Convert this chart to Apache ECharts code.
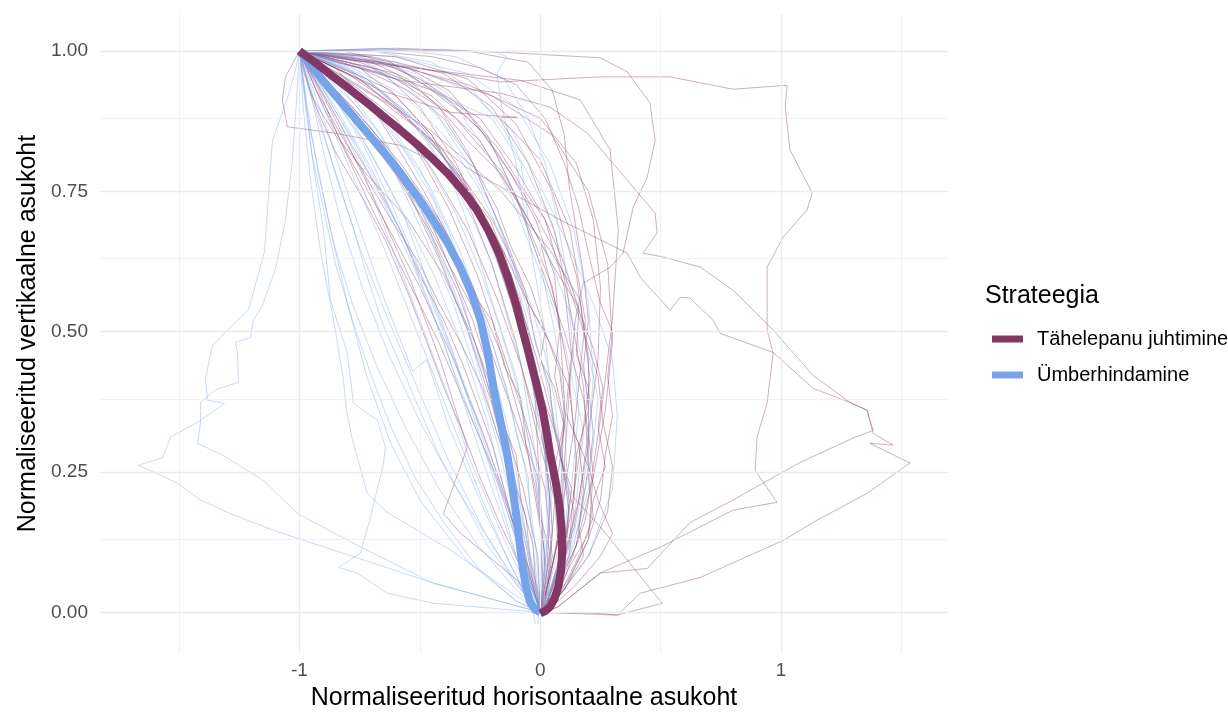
<!DOCTYPE html>
<html>
<head>
<meta charset="utf-8">
<script src="https://cdn.jsdelivr.net/npm/echarts@6/dist/echarts.min.js"></script>
<style>
html,body{margin:0;padding:0;background:#fff;}
#chart{width:1228px;height:713px;}
</style>
</head>
<body>
<div id="chart"></div>
<script>
// ---- Labels ----
const groupNames = ['Tähelepanu juhtimine', 'Ümberhindamine'];
const legendTitle = 'Strateegia';
const xTitle = 'Normaliseeritud horisontaalne asukoht';
const yTitle = 'Normaliseeritud vertikaalne asukoht';

// ---- Ticks / gridlines ----
const xTicks = [-1, 0, 1];
const xMinor = [-1.5, -0.5, 0.5, 1.5];
const yTicks = [0, 0.25, 0.5, 0.75, 1];
const yMinor = [0.125, 0.375, 0.625, 0.875];

// ---- Mean trajectories ----
const tahelepanuMean = [[-1,1],[-0.93,0.978],[-0.859,0.954],[-0.788,0.931],[-0.718,0.907],[-0.65,0.883],[-0.581,0.859],[-0.512,0.834],[-0.444,0.807],[-0.38,0.78],[-0.32,0.75],[-0.265,0.718],[-0.215,0.68],[-0.17,0.638],[-0.132,0.592],[-0.102,0.55],[-0.078,0.51],[-0.053,0.47],[-0.03,0.431],[-0.009,0.395],[0.01,0.36],[0.026,0.322],[0.041,0.283],[0.063,0.235],[0.08,0.19],[0.089,0.147],[0.091,0.108],[0.086,0.074],[0.075,0.046],[0.06,0.025],[0.041,0.01],[0.02,0.002],[0,-0.002]];
const umberMean = [[-1,1],[-0.93,0.962],[-0.859,0.925],[-0.788,0.89],[-0.718,0.854],[-0.65,0.82],[-0.581,0.783],[-0.512,0.742],[-0.444,0.699],[-0.385,0.658],[-0.332,0.615],[-0.285,0.568],[-0.248,0.52],[-0.218,0.462],[-0.195,0.401],[-0.166,0.342],[-0.138,0.283],[-0.115,0.222],[-0.097,0.164],[-0.084,0.118],[-0.072,0.076],[-0.058,0.043],[-0.042,0.018],[-0.022,0.005],[0,0]];

// ---- Individual trajectories: Tähelepanu juhtimine ----
const tahelepanuTraj = [
 [[-1,1],[-0.58,0.975],[-0.166,0.945],[0.249,0.954],[0.539,0.954],[0.8,0.932],[1.025,0.939],[1.017,0.9],[1.037,0.824],[1.129,0.747],[1.108,0.717],[1.008,0.668],[0.942,0.615],[0.942,0.503],[0.967,0.462],[0.942,0.373],[0.9,0.312],[0.892,0.253],[0.983,0.196],[0.8,0.182],[0.498,0.116],[0.249,0.07],[0.071,0.009],[0,-0.002]],
 [[-1,1],[-0.58,1.002],[-0.166,0.998],[0.249,0.988],[0.361,0.963],[0.456,0.907],[0.477,0.841],[0.444,0.775],[0.386,0.722],[0.344,0.64],[0.29,0.615],[0.178,0.586],[0.145,0.52],[0.124,0.414],[0.104,0.289],[0.083,0.146],[0.021,0.03],[0,0]],
 [[-1,1],[-0.58,0.948],[-0.166,0.925],[0.041,0.9],[0.195,0.854],[0.361,0.77],[0.477,0.711],[0.485,0.676],[0.427,0.64],[0.51,0.633],[0.664,0.615],[0.8,0.574],[0.967,0.503],[1.133,0.422],[1.286,0.374],[1.357,0.36],[1.382,0.319],[1.465,0.298],[1.369,0.301],[1.535,0.266],[1.357,0.212],[1.149,0.164],[1.008,0.128],[0.664,0.062],[0.415,0.034],[0.32,-0.005],[0.249,-0.002],[0,0]],
 [[-1,1],[-0.664,0.913],[-0.29,0.788],[0.083,0.699],[0.361,0.64],[0.415,0.597],[0.539,0.538],[0.581,0.561],[0.622,0.56],[0.718,0.52],[0.747,0.497],[0.967,0.463],[1.133,0.399],[1.286,0.374],[1.357,0.36],[1.382,0.324],[1.307,0.312],[1.079,0.267],[0.8,0.2],[0.622,0.16],[0.444,0.078],[0.249,0.07],[0.071,0.009],[0,0]],
 [[-1,1],[-0.788,0.948],[-0.456,0.859],[-0.166,0.752],[0.041,0.645],[0.166,0.556],[0.207,0.414],[0.137,0.205],[0.249,0.152],[0.386,0.08],[0.506,0.016],[0.32,-0.005],[0,0]],
 [[-1,1],[-0.871,0.895],[-0.705,0.752],[-0.539,0.592],[-0.415,0.449],[-0.303,0.294],[-0.402,0.176],[-0.332,0.141],[-0.095,0.057],[-0.012,0.004]],
 [[-1,1],[-1.058,0.954],[-1.071,0.913],[-1.05,0.865],[-0.859,0.854],[-0.581,0.832],[-0.373,0.788],[-0.207,0.699],[-0.083,0.556],[-0.021,0.378],[0,0.2],[0.021,0.075],[0,0]],
 [[-1,1],[-0.788,0.984],[-0.456,0.966],[-0.083,0.948],[0.166,0.913],[0.29,0.824],[0.324,0.681],[0.299,0.52],[0.249,0.342],[0.187,0.164],[0.083,0.039],[0,0]],
 [[-1,1],[-0.664,0.93],[-0.373,0.891],[-0.237,0.886],[-0.095,0.882],[-0.166,0.881],[0,0.806],[0.124,0.681],[0.187,0.52],[0.145,0.342],[0.083,0.164],[0.033,0.039],[0,0]],
 [[-1,1],[-0.8,0.96],[-0.6,0.9],[-0.4,0.82],[-0.25,0.72],[-0.12,0.6],[-0.04,0.45],[0.02,0.3],[0.05,0.15],[0.03,0.05],[0,0]],
 [[-1,1],[-0.85,0.93],[-0.7,0.85],[-0.55,0.75],[-0.42,0.63],[-0.3,0.5],[-0.2,0.37],[-0.12,0.24],[-0.06,0.12],[-0.02,0.03],[0,0]],
 [[-1,1],[-0.7,0.97],[-0.45,0.92],[-0.25,0.84],[-0.08,0.72],[0.05,0.58],[0.12,0.42],[0.15,0.27],[0.12,0.12],[0.05,0.03],[0,0]],
 [[-1,1],[-0.75,0.95],[-0.5,0.86],[-0.3,0.76],[-0.15,0.64],[-0.05,0.5],[0,0.36],[0.04,0.2],[0.03,0.08],[0,0]],
 [[-1,1],[-0.9,0.9],[-0.78,0.8],[-0.65,0.7],[-0.5,0.58],[-0.36,0.45],[-0.24,0.32],[-0.14,0.2],[-0.06,0.08],[0,0]],
 [[-1,1],[-0.6,0.99],[-0.3,0.95],[-0.1,0.87],[0.05,0.75],[0.15,0.6],[0.2,0.45],[0.2,0.3],[0.14,0.15],[0.05,0.04],[0,0]],
 [[-1,1],[-0.82,0.97],[-0.62,0.93],[-0.45,0.85],[-0.32,0.75],[-0.2,0.62],[-0.1,0.48],[-0.02,0.33],[0.06,0.2],[0.08,0.08],[0.02,0.01]],
 [[-1,1],[-0.88,0.94],[-0.74,0.86],[-0.6,0.78],[-0.46,0.68],[-0.34,0.57],[-0.24,0.44],[-0.16,0.31],[-0.1,0.18],[-0.04,0.06],[0,0]],
 [[-1,1],[-0.7,0.99],[-0.4,0.96],[-0.2,0.9],[-0.05,0.8],[0.06,0.68],[0.12,0.55],[0.18,0.4],[0.2,0.26],[0.15,0.12],[0.06,0.03],[0,0]],
 [[-1,1],[-0.78,0.9],[-0.58,0.8],[-0.42,0.7],[-0.28,0.58],[-0.16,0.46],[-0.08,0.34],[-0.02,0.22],[0.02,0.1],[0,0]],
 [[-1,1],[-0.85,0.98],[-0.65,0.96],[-0.5,0.9],[-0.35,0.8],[-0.22,0.68],[-0.12,0.55],[-0.02,0.42],[0.08,0.3],[0.12,0.18],[0.1,0.07],[0.03,0.01]],
 [[-1,1],[-0.55,0.97],[-0.2,0.92],[0.05,0.85],[0.2,0.75],[0.28,0.62],[0.3,0.48],[0.27,0.36],[0.22,0.24],[0.15,0.12],[0.05,0.03],[0,0]],
 [[-1,1],[-0.92,0.93],[-0.82,0.83],[-0.7,0.72],[-0.56,0.6],[-0.42,0.48],[-0.3,0.36],[-0.18,0.24],[-0.08,0.12],[-0.02,0.03],[0,0]],
 [[-1,1],[-0.7,0.94],[-0.48,0.86],[-0.28,0.74],[-0.12,0.6],[-0.02,0.46],[0.06,0.33],[0.12,0.2],[0.1,0.09],[0.03,0.01]],
 [[-1,1],[-0.8,0.99],[-0.55,0.97],[-0.38,0.93],[-0.22,0.85],[-0.1,0.74],[0,0.62],[0.1,0.5],[0.18,0.38],[0.22,0.25],[0.2,0.13],[0.1,0.04],[0,0]],
 [[-1,1],[-0.95,0.92],[-0.85,0.85],[-0.72,0.78],[-0.55,0.7],[-0.4,0.6],[-0.27,0.48],[-0.16,0.35],[-0.07,0.22],[-0.01,0.1],[0,0]],
 [[-1,1],[-0.6,0.96],[-0.35,0.88],[-0.15,0.78],[0,0.66],[0.08,0.52],[0.1,0.38],[0.09,0.25],[0.07,0.12],[0.02,0.03]],
 [[-1,1],[-0.75,0.98],[-0.45,0.93],[-0.25,0.88],[-0.1,0.79],[0.02,0.7],[0.1,0.58],[0.13,0.46],[0.1,0.33],[0.06,0.2],[0.04,0.08],[0,0]],
 [[-1,1],[-0.83,0.92],[-0.66,0.82],[-0.5,0.72],[-0.38,0.62],[-0.25,0.52],[-0.15,0.4],[-0.05,0.28],[0,0.15],[0.01,0.05],[0,0]],
 [[-1,1],[-0.65,0.98],[-0.3,0.94],[0,0.88],[0.15,0.8],[0.22,0.7],[0.25,0.58],[0.24,0.45],[0.2,0.32],[0.16,0.2],[0.1,0.1],[0.03,0.02]],
 [[-1,1],[-0.88,0.96],[-0.7,0.91],[-0.52,0.83],[-0.38,0.72],[-0.26,0.6],[-0.16,0.47],[-0.06,0.34],[0.02,0.22],[0.05,0.1],[0.02,0.02]],
 [[-1,1],[-0.9,0.97],[-0.78,0.94],[-0.6,0.88],[-0.45,0.79],[-0.3,0.68],[-0.18,0.56],[-0.08,0.44],[0,0.32],[0.07,0.2],[0.08,0.1],[0.03,0.02]],
 [[-1,1],[-0.9,0.99],[-0.75,0.97],[-0.6,0.92],[-0.45,0.85],[-0.33,0.78],[-0.2,0.7],[-0.12,0.63],[-0.05,0.55],[0.02,0.5],[0,0.45],[0.06,0.4],[0.1,0.33],[0.08,0.28],[0.13,0.22],[0.11,0.15],[0.08,0.09],[0.04,0.03],[0,0]],
 [[-1,1],[-0.8,0.98],[-0.6,0.95],[-0.42,0.9],[-0.3,0.84],[-0.16,0.78],[-0.05,0.7],[0.05,0.62],[0.15,0.55],[0.22,0.47],[0.26,0.4],[0.24,0.33],[0.27,0.26],[0.22,0.2],[0.2,0.14],[0.12,0.08],[0.05,0.02],[0,0]],
 [[-1,1],[-0.85,0.97],[-0.7,0.9],[-0.58,0.82],[-0.47,0.74],[-0.37,0.66],[-0.3,0.58],[-0.2,0.52],[-0.15,0.44],[-0.08,0.38],[-0.06,0.3],[-0.01,0.24],[0,0.17],[0.04,0.11],[0.02,0.05],[0,0]],
 [[-1,1],[-0.7,1],[-0.45,0.99],[-0.25,0.97],[-0.1,0.94],[0.02,0.88],[0.1,0.8],[0.16,0.72],[0.2,0.64],[0.25,0.55],[0.3,0.5],[0.28,0.42],[0.3,0.35],[0.27,0.28],[0.25,0.2],[0.2,0.13],[0.12,0.06],[0.03,0.01]],
 [[-1,1],[-0.95,0.96],[-0.87,0.9],[-0.78,0.83],[-0.68,0.76],[-0.58,0.68],[-0.5,0.6],[-0.4,0.52],[-0.32,0.44],[-0.26,0.37],[-0.2,0.3],[-0.15,0.22],[-0.1,0.14],[-0.04,0.07],[0,0.01]],
 [[-1,1],[-0.75,0.97],[-0.55,0.93],[-0.4,0.88],[-0.28,0.8],[-0.18,0.72],[-0.12,0.65],[-0.04,0.58],[0.02,0.5],[0.08,0.43],[0.1,0.36],[0.16,0.3],[0.18,0.22],[0.16,0.15],[0.18,0.1],[0.1,0.04],[0.02,0]],
 [[-1,1],[-0.88,0.99],[-0.7,0.98],[-0.55,0.95],[-0.42,0.9],[-0.3,0.82],[-0.22,0.74],[-0.14,0.66],[-0.06,0.57],[-0.02,0.48],[0.04,0.4],[0.06,0.32],[0.1,0.25],[0.14,0.18],[0.12,0.1],[0.06,0.04],[0,0]],
 [[-1,1],[-0.6,1.005],[-0.3,1],[-0.05,0.98],[0.05,0.93],[0.1,0.85],[0.12,0.76],[0.15,0.68],[0.18,0.6],[0.2,0.52],[0.18,0.44],[0.2,0.36],[0.15,0.28],[0.14,0.2],[0.1,0.12],[0.05,0.05],[0,0]],
 [[-1,1],[-0.9,0.95],[-0.78,0.9],[-0.66,0.84],[-0.55,0.76],[-0.44,0.68],[-0.36,0.6],[-0.28,0.52],[-0.22,0.44],[-0.18,0.36],[-0.1,0.28],[-0.08,0.2],[-0.03,0.12],[-0.02,0.05],[0,0]],
 [[-1,1],[-0.82,1],[-0.62,0.98],[-0.45,0.93],[-0.3,0.88],[-0.18,0.83],[-0.08,0.76],[0.02,0.7],[0.1,0.62],[0.16,0.54],[0.15,0.46],[0.2,0.4],[0.22,0.32],[0.2,0.24],[0.22,0.17],[0.16,0.1],[0.08,0.03],[0,0]],
 [[-1,1],[-0.93,0.93],[-0.84,0.86],[-0.73,0.78],[-0.62,0.7],[-0.5,0.62],[-0.42,0.55],[-0.33,0.48],[-0.24,0.4],[-0.18,0.32],[-0.12,0.25],[-0.06,0.17],[-0.04,0.09],[0,0.02]],
 [[-1,1],[-0.78,0.96],[-0.6,0.9],[-0.42,0.82],[-0.28,0.74],[-0.16,0.65],[-0.06,0.56],[0.04,0.48],[0.12,0.4],[0.14,0.32],[0.2,0.26],[0.24,0.2],[0.3,0.14],[0.25,0.1],[0.15,0.05],[0.05,0.01]],
 [[-1,1],[-0.98,0.96],[-0.93,0.9],[-0.85,0.82],[-0.74,0.74],[-0.64,0.66],[-0.55,0.57],[-0.47,0.48],[-0.4,0.4],[-0.32,0.32],[-0.25,0.24],[-0.17,0.16],[-0.08,0.08],[0,0.01]],
 [[-1,1],[-0.85,0.99],[-0.6,0.97],[-0.4,0.92],[-0.25,0.86],[-0.12,0.78],[-0.02,0.7],[0.06,0.6],[0.08,0.5],[0.06,0.42],[0.1,0.34],[0.06,0.26],[0.09,0.18],[0.06,0.1],[0.02,0.03]],
 [[-1,1],[-0.72,0.99],[-0.5,0.95],[-0.32,0.9],[-0.18,0.82],[-0.06,0.74],[0.04,0.66],[0.12,0.58],[0.18,0.5],[0.24,0.42],[0.26,0.34],[0.3,0.26],[0.28,0.18],[0.2,0.1],[0.08,0.03],[0,0]]
];

// ---- Individual trajectories: Ümberhindamine ----
const umberTraj = [
 [[-1,1],[-1.021,0.957],[-1.05,0.916],[-1.112,0.84],[-1.124,0.77],[-1.145,0.642],[-1.212,0.538],[-1.257,0.52],[-1.361,0.476],[-1.39,0.417],[-1.382,0.378],[-1.311,0.372],[-1.411,0.342],[-1.535,0.312],[-1.568,0.276],[-1.668,0.262],[-1.506,0.23],[-1.41,0.2],[-1.299,0.178],[-1.108,0.146],[-0.859,0.111],[-0.444,0.052],[0,0]],
 [[-1,1],[-1.012,0.913],[-1.029,0.806],[-1.058,0.699],[-1.1,0.61],[-1.154,0.547],[-1.191,0.52],[-1.203,0.49],[-1.266,0.481],[-1.257,0.462],[-1.253,0.41],[-1.349,0.396],[-1.411,0.374],[-1.411,0.337],[-1.423,0.301],[-1.315,0.279],[-1.149,0.235],[-1.008,0.176],[-0.776,0.123],[-0.444,0.052],[0,0]],
 [[-1,1],[-0.975,0.913],[-0.942,0.797],[-0.9,0.681],[-0.871,0.556],[-0.801,0.462],[-0.776,0.373],[-0.676,0.342],[-0.643,0.294],[-0.651,0.265],[-0.705,0.169],[-0.747,0.105],[-0.838,0.08],[-0.759,0.07],[-0.635,0.034],[-0.444,0.016],[0,0]],
 [[-1,1],[-0.983,0.895],[-0.954,0.77],[-0.913,0.645],[-0.851,0.503],[-0.817,0.414],[-0.805,0.36],[-0.78,0.307],[-0.718,0.212],[-0.635,0.178],[-0.373,0.111],[-0.041,0.012]],
 [[-1,1],[-0.9,0.88],[-0.78,0.72],[-0.65,0.56],[-0.53,0.43],[-0.47,0.45],[-0.38,0.33],[-0.22,0.17],[-0.06,0.03],[0,0]],
 [[-1,1],[-0.95,0.85],[-0.88,0.7],[-0.8,0.55],[-0.72,0.42],[-0.62,0.3],[-0.5,0.2],[-0.3,0.09],[-0.1,0.02],[0,0]],
 [[-1,1],[-0.7,1.003],[-0.4,1.003],[-0.18,0.998],[-0.14,0.99],[-0.18,0.96],[-0.16,0.9],[-0.1,0.8],[-0.04,0.65],[0.02,0.5],[0.05,0.35],[0.04,0.2],[0.02,0.08],[0,0]],
 [[-1,1],[-0.6,0.98],[-0.3,0.93],[-0.12,0.86],[0,0.76],[0.12,0.65],[0.22,0.55],[0.3,0.45],[0.32,0.35],[0.3,0.22],[0.2,0.1],[0.06,0.02],[0,0]],
 [[-1,1],[-0.75,0.97],[-0.45,0.93],[-0.2,0.88],[-0.08,0.8],[-0.05,0.7],[0.05,0.62],[0.15,0.5],[0.2,0.38],[0.2,0.25],[0.14,0.12],[0.04,0.02]],
 [[-1,1],[-0.9,0.93],[-0.78,0.84],[-0.65,0.73],[-0.52,0.61],[-0.4,0.48],[-0.3,0.35],[-0.2,0.22],[-0.1,0.1],[-0.03,0.02]],
 [[-1,1],[-0.86,0.92],[-0.72,0.83],[-0.58,0.72],[-0.44,0.6],[-0.32,0.47],[-0.22,0.34],[-0.14,0.2],[-0.07,0.08],[0,0]],
 [[-1,1],[-0.93,0.9],[-0.85,0.78],[-0.75,0.65],[-0.63,0.52],[-0.5,0.39],[-0.38,0.27],[-0.24,0.15],[-0.1,0.05],[0,0]],
 [[-1,1],[-0.8,0.94],[-0.62,0.86],[-0.46,0.76],[-0.33,0.64],[-0.22,0.51],[-0.13,0.38],[-0.06,0.25],[-0.02,0.12],[0,0.02]],
 [[-1,1],[-0.75,0.96],[-0.55,0.89],[-0.38,0.8],[-0.24,0.69],[-0.12,0.56],[-0.04,0.42],[0.02,0.28],[0.03,0.14],[0.01,0.03]],
 [[-1,1],[-0.88,0.88],[-0.76,0.76],[-0.64,0.64],[-0.54,0.53],[-0.44,0.42],[-0.34,0.31],[-0.24,0.2],[-0.13,0.09],[-0.02,0]],
 [[-1,1],[-0.7,0.97],[-0.45,0.9],[-0.28,0.8],[-0.16,0.68],[-0.06,0.55],[0.02,0.42],[0.08,0.3],[0.1,0.18],[0.07,0.07],[0.01,0]],
 [[-1,1],[-0.95,0.92],[-0.9,0.82],[-0.83,0.7],[-0.74,0.58],[-0.63,0.46],[-0.5,0.34],[-0.36,0.23],[-0.2,0.12],[-0.06,0.03],[0,0]],
 [[-1,1],[-0.82,0.95],[-0.64,0.88],[-0.5,0.79],[-0.38,0.68],[-0.28,0.56],[-0.2,0.44],[-0.13,0.32],[-0.08,0.2],[-0.04,0.08],[0,0]],
 [[-1,1],[-0.65,0.98],[-0.4,0.93],[-0.22,0.85],[-0.1,0.74],[0,0.62],[0.06,0.5],[0.1,0.38],[0.11,0.25],[0.08,0.12],[0.02,0.02]],
 [[-1,1],[-0.9,0.96],[-0.76,0.9],[-0.62,0.81],[-0.5,0.71],[-0.38,0.6],[-0.28,0.48],[-0.18,0.36],[-0.1,0.23],[-0.05,0.11],[-0.01,0.02]],
 [[-1,1],[-0.85,0.9],[-0.7,0.79],[-0.57,0.67],[-0.46,0.55],[-0.36,0.43],[-0.26,0.32],[-0.16,0.21],[-0.08,0.1],[-0.02,-0.02]],
 [[-1,1],[-0.78,0.97],[-0.56,0.92],[-0.4,0.85],[-0.26,0.76],[-0.14,0.65],[-0.06,0.53],[0,0.4],[0.04,0.27],[0.05,0.14],[0.02,0.04]],
 [[-1,1],[-0.97,0.9],[-0.92,0.78],[-0.86,0.66],[-0.78,0.55],[-0.68,0.44],[-0.56,0.33],[-0.42,0.22],[-0.26,0.12],[-0.1,0.04],[0,0]],
 [[-1,1],[-0.72,0.95],[-0.5,0.87],[-0.33,0.77],[-0.2,0.66],[-0.1,0.54],[-0.03,0.41],[0.02,0.28],[0.04,0.16],[0.02,0.05],[0,0]],
 [[-1,1],[-0.88,0.94],[-0.74,0.87],[-0.6,0.78],[-0.48,0.67],[-0.36,0.55],[-0.26,0.42],[-0.17,0.29],[-0.1,0.16],[-0.04,0.05],[0,0]],
 [[-1,1],[-0.6,0.99],[-0.3,0.96],[-0.1,0.9],[0.04,0.8],[0.14,0.68],[0.2,0.55],[0.22,0.42],[0.2,0.28],[0.14,0.14],[0.05,0.03]],
 [[-1,1],[-0.92,0.95],[-0.8,0.89],[-0.68,0.8],[-0.56,0.7],[-0.46,0.58],[-0.36,0.46],[-0.27,0.34],[-0.18,0.22],[-0.1,0.1],[-0.02,0.01]],
 [[-1,1],[-0.92,0.94],[-0.83,0.87],[-0.74,0.79],[-0.66,0.7],[-0.58,0.61],[-0.5,0.52],[-0.43,0.44],[-0.36,0.36],[-0.3,0.28],[-0.22,0.2],[-0.14,0.12],[-0.06,0.05],[0,0]],
 [[-1,1],[-0.85,0.96],[-0.7,0.9],[-0.56,0.82],[-0.45,0.74],[-0.36,0.65],[-0.28,0.56],[-0.2,0.48],[-0.14,0.4],[-0.1,0.32],[-0.05,0.24],[-0.04,0.16],[-0.02,0.08],[0,0]],
 [[-1,1],[-0.78,0.99],[-0.58,0.95],[-0.42,0.88],[-0.3,0.8],[-0.2,0.72],[-0.12,0.63],[-0.04,0.55],[0.02,0.46],[0.06,0.38],[0.08,0.3],[0.12,0.22],[0.1,0.14],[0.06,0.06],[0,0]],
 [[-1,1],[-0.96,0.93],[-0.9,0.85],[-0.84,0.77],[-0.78,0.69],[-0.72,0.6],[-0.66,0.52],[-0.58,0.44],[-0.5,0.36],[-0.42,0.28],[-0.32,0.2],[-0.22,0.12],[-0.1,0.05],[0,0]],
 [[-1,1],[-0.8,0.97],[-0.64,0.92],[-0.5,0.86],[-0.38,0.78],[-0.28,0.7],[-0.2,0.62],[-0.14,0.53],[-0.08,0.44],[-0.05,0.36],[-0.02,0.28],[0,0.2],[0.02,0.12],[0,0.04],[-0.01,-0.02]],
 [[-1,1],[-0.88,0.98],[-0.72,0.95],[-0.58,0.9],[-0.46,0.83],[-0.36,0.76],[-0.28,0.67],[-0.22,0.58],[-0.16,0.5],[-0.1,0.42],[-0.06,0.33],[-0.02,0.25],[0,0.16],[0.01,0.07],[0,0]],
 [[-1,1],[-0.7,1],[-0.45,0.98],[-0.28,0.93],[-0.15,0.86],[-0.05,0.78],[0.04,0.7],[0.1,0.62],[0.16,0.54],[0.2,0.46],[0.24,0.38],[0.22,0.3],[0.2,0.22],[0.15,0.14],[0.08,0.06],[0,0]],
 [[-1,1],[-0.94,0.96],[-0.86,0.9],[-0.76,0.83],[-0.66,0.75],[-0.56,0.66],[-0.46,0.57],[-0.38,0.48],[-0.3,0.39],[-0.22,0.3],[-0.16,0.22],[-0.1,0.14],[-0.05,0.07],[0,0]],
 [[-1,1],[-0.84,0.94],[-0.68,0.86],[-0.55,0.77],[-0.44,0.68],[-0.34,0.58],[-0.27,0.48],[-0.2,0.38],[-0.16,0.3],[-0.12,0.22],[-0.08,0.14],[-0.04,0.06],[0,0]],
 [[-1,1],[-0.75,0.99],[-0.52,0.96],[-0.35,0.9],[-0.22,0.82],[-0.12,0.74],[-0.04,0.65],[0.04,0.56],[0.1,0.48],[0.14,0.4],[0.18,0.32],[0.16,0.24],[0.14,0.16],[0.08,0.08],[0.02,0.01]],
 [[-1,1],[-0.98,0.92],[-0.95,0.82],[-0.9,0.72],[-0.85,0.62],[-0.78,0.52],[-0.7,0.42],[-0.62,0.33],[-0.52,0.24],[-0.4,0.16],[-0.26,0.08],[-0.1,0.02],[0,0]],
 [[-1,1],[-0.9,0.97],[-0.78,0.92],[-0.66,0.85],[-0.55,0.77],[-0.46,0.68],[-0.38,0.59],[-0.3,0.5],[-0.24,0.41],[-0.18,0.32],[-0.12,0.23],[-0.06,0.14],[-0.02,0.06],[0,0]],
 [[-1,1],[-0.65,1.005],[-0.35,0.99],[-0.15,0.95],[-0.05,0.88],[0.02,0.8],[0.06,0.72],[0.1,0.63],[0.12,0.54],[0.14,0.45],[0.16,0.36],[0.14,0.27],[0.12,0.18],[0.08,0.09],[0.02,0.02]],
 [[-1,1],[-0.86,0.92],[-0.73,0.83],[-0.62,0.73],[-0.52,0.63],[-0.43,0.53],[-0.35,0.44],[-0.27,0.35],[-0.2,0.26],[-0.13,0.17],[-0.07,0.09],[-0.02,0.02]],
 [[-1,1],[-0.8,0.95],[-0.62,0.88],[-0.47,0.8],[-0.35,0.71],[-0.25,0.61],[-0.17,0.51],[-0.1,0.41],[-0.05,0.31],[-0.01,0.21],[0.01,0.12],[0,0.04],[0,0]]
];

// ---- Styling ----
const meanColors = ['#823764', '#76A3EA'];
const thinColors = ['rgba(130,55,100,0.4)', 'rgba(118,163,234,0.4)'];
const gridColor = '#EBEBEB';
const FONT = '"Liberation Sans", Arial, Helvetica, sans-serif';

const chart = echarts.init(document.getElementById('chart'), null, {renderer: 'canvas'});

const series = [];
series.push({
  type: 'line', name: '_grid', data: [], silent: true, z: 0,
  markLine: {
    silent: true, symbol: ['none','none'], label: {show: false}, animation: false,
    emphasis: {disabled: true},
    data: [
      ...xMinor.map(v => ({xAxis: v, lineStyle: {color: gridColor, width: 0.7, type: 'solid'}})),
      ...yMinor.map(v => ({yAxis: v, lineStyle: {color: gridColor, width: 0.7, type: 'solid'}})),
      ...xTicks.map(v => ({xAxis: v, lineStyle: {color: gridColor, width: 1.3, type: 'solid'}})),
      ...yTicks.map(v => ({yAxis: v, lineStyle: {color: gridColor, width: 1.3, type: 'solid'}}))
    ]
  }
});

function addThin(list, gi) {
  list.forEach((tr, i) => {
    series.push({
      type: 'line', name: '_t' + gi + '_' + i, data: tr, showSymbol: false, symbol: 'none',
      silent: true, z: 2, animation: false,
      lineStyle: {color: thinColors[gi], width: 1},
      emphasis: {disabled: true}
    });
  });
}
addThin(tahelepanuTraj, 0);
addThin(umberTraj, 1);

series.push({
  type: 'line', name: groupNames[1], data: umberMean, showSymbol: false, symbol: 'none',
  smooth: false, z: 5, animation: false,
  lineStyle: {color: meanColors[1], width: 8, join: 'round'},
  itemStyle: {color: meanColors[1]}
});
series.push({
  type: 'line', name: groupNames[0], data: tahelepanuMean, showSymbol: false, symbol: 'none',
  smooth: false, z: 6, animation: false,
  lineStyle: {color: meanColors[0], width: 8, join: 'round'},
  itemStyle: {color: meanColors[0]}
});

chart.setOption({
  animation: false,
  backgroundColor: '#ffffff',
  grid: {left: 100, right: 280, top: 14, bottom: 60, containLabel: false, outerBoundsMode: 'none'},
  xAxis: {
    type: 'value', min: -1.828, max: 1.693,
    axisLine: {show: false}, axisTick: {show: false}, splitLine: {show: false},
    axisLabel: {customValues: xTicks, color: '#4D4D4D', fontSize: 19, fontFamily: FONT, margin: 8},
    name: xTitle, nameLocation: 'middle', nameGap: 33,
    nameTextStyle: {color: '#000', fontSize: 25, fontFamily: FONT}
  },
  yAxis: {
    type: 'value', min: -0.0725, max: 1.066,
    axisLine: {show: false}, axisTick: {show: false}, splitLine: {show: false},
    axisLabel: {customValues: yTicks, color: '#4D4D4D', fontSize: 19, fontFamily: FONT, margin: 12,
      formatter: v => Number(v).toFixed(2)},
    name: yTitle, nameLocation: 'middle', nameGap: 58, nameRotate: 90,
    nameTextStyle: {color: '#000', fontSize: 25, fontFamily: FONT}
  },
  legend: {
    orient: 'vertical', left: 987, top: 321,
    itemWidth: 31, itemHeight: 7, itemGap: 10,
    data: groupNames.map((n, i) => ({name: n, icon: 'rect', itemStyle: {color: meanColors[i]}})),
    textStyle: {color: '#000', fontSize: 20, fontFamily: FONT, lineHeight: 26, padding: [0,0,0,9]},
    selectedMode: false
  },
  graphic: [{
    type: 'text', left: 985, top: 284,
    style: {text: legendTitle, fontSize: 25, fontFamily: FONT, fill: '#000'}
  }],
  series: series
});
</script>
</body>
</html>
